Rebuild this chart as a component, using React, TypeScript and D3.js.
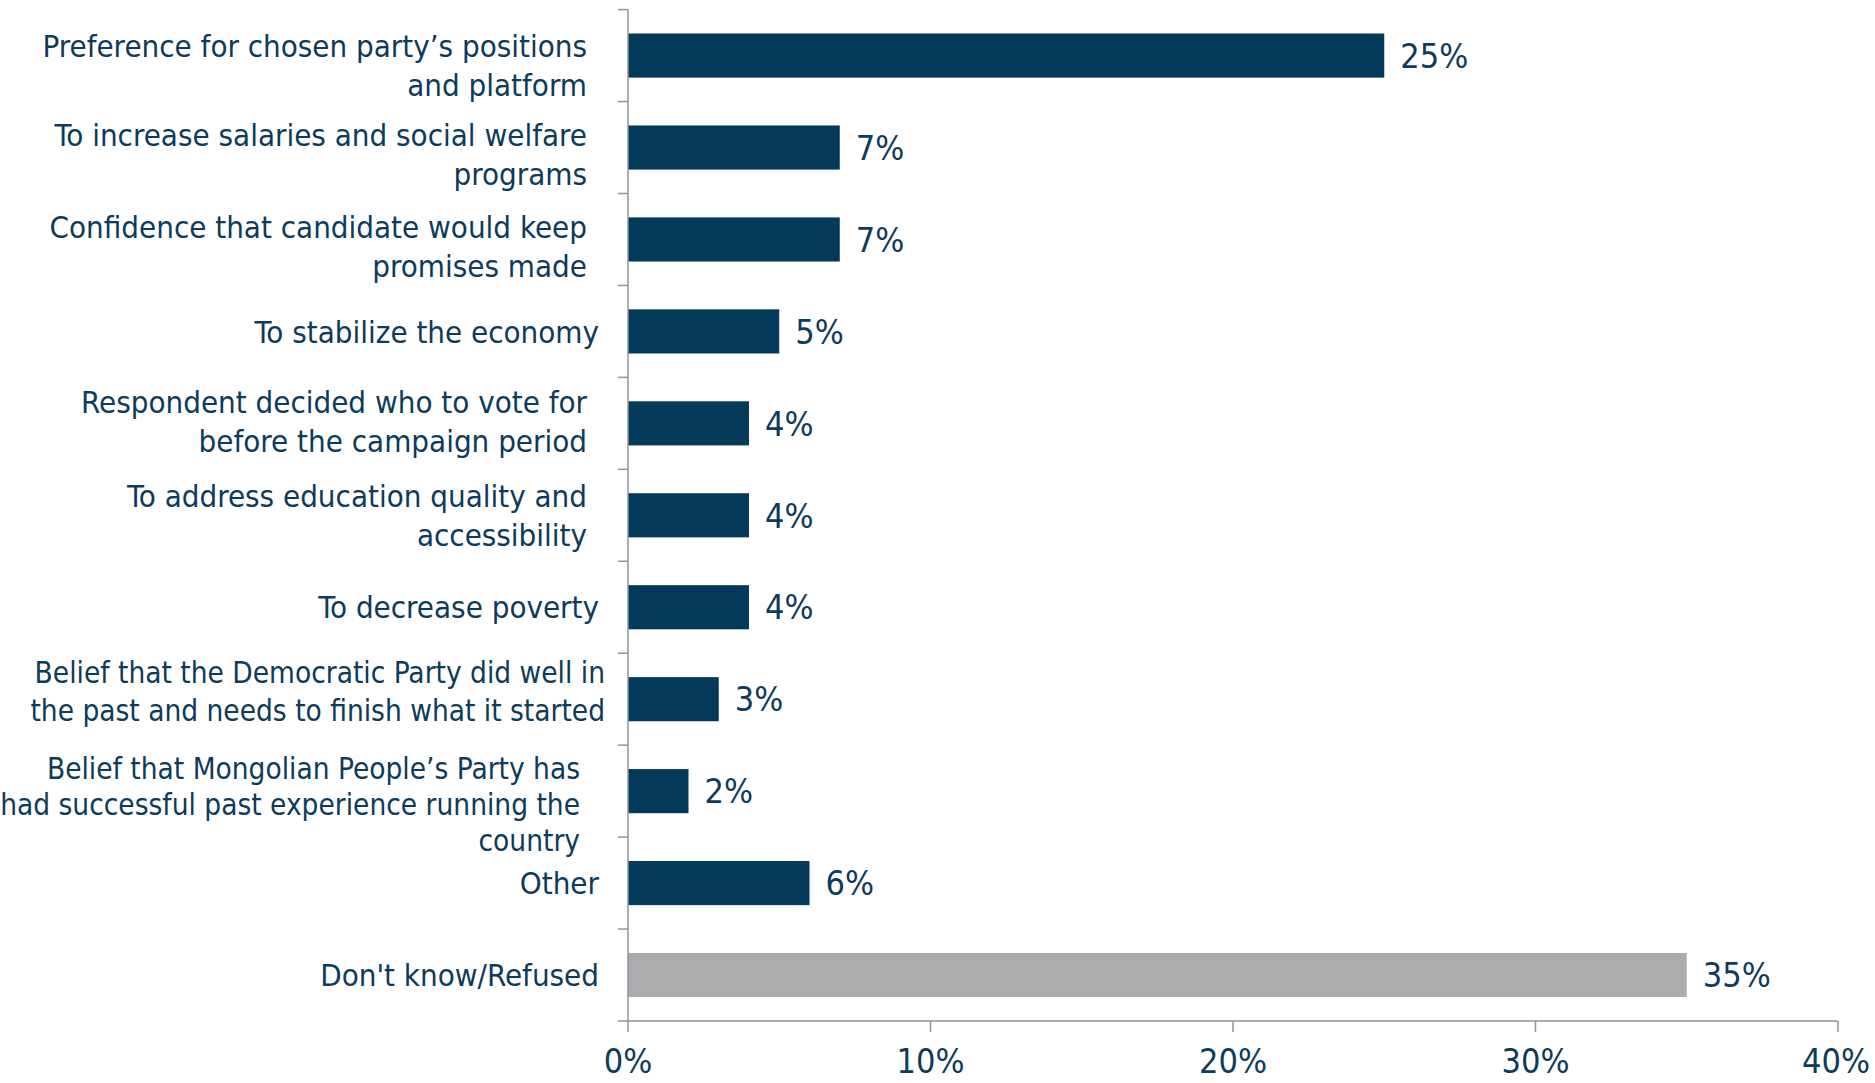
import React from 'react'
import * as d3 from 'd3'

// categories (each entry holds the wrapped lines of the label)
const categories: string[][] = [
  ['Preference for chosen party\u2019s positions', 'and platform'],
  ['To increase salaries and social welfare', 'programs'],
  ['Confidence that candidate would keep', 'promises made'],
  ['To stabilize the economy'],
  ['Respondent decided who to vote for', 'before the campaign period'],
  ['To address education quality and', 'accessibility'],
  ['To decrease poverty'],
  ['Belief that the Democratic Party did well in', 'the past and needs to finish what it started'],
  ['Belief that Mongolian People\u2019s Party has', 'had successful past experience running the', 'country'],
  ['Other'],
  ["Don't know/Refused"],
]
const values = [25, 7, 7, 5, 4, 4, 4, 3, 2, 6, 35]
const highlight = [false, false, false, false, false, false, false, false, false, false, true]
const xTicks = [0, 10, 20, 30, 40]

const WIDTH = 1875
const HEIGHT = 1083
const FONT = "'Liberation Sans Narrow', 'DejaVu Sans Condensed', 'Arial Narrow', sans-serif"
const NAVY = '#033a5a'
const GREY = '#acacae'
const TEXT = '#0d3b5b'
const AXIS = '#8e959d'

// label layout tweaks: right edge, vertical shift, line spacing and size of each block
// (Excel's wrapping leaves uneven edges)
const labelRight = [587, 587, 587, 599, 587, 587, 599, 605, 580, 599, 599]
const labelShift = [10, 7, 7, 0, -2, 0, 0, -8, 13, 0, 0]
const labelLine = [39.5, 38.5, 38.5, 39, 39, 39, 39, 37.5, 36, 39, 39]
const labelSize = [31, 31, 31, 31, 31, 31, 31, 29.5, 29.5, 31, 31]

export default function App() {
  const x = d3.scaleLinear().domain([0, 40]).range([628, 1838])
  const y = d3.scaleBand<number>()
    .domain(d3.range(categories.length))
    .range([9.6, 1021])
    .paddingInner(0.52)
    .paddingOuter(0.26)
  const step = y.step()

  return (
    <div style={{ position: 'absolute', left: 0, top: 0 }}>
      <svg width={WIDTH} height={HEIGHT} style={{ display: 'block', fontFamily: FONT }}>
        <rect width={WIDTH} height={HEIGHT} fill="#fff" />

        {/* bars */}
        {values.map((v, i) => (
          <rect
            key={'b' + i}
            x={x(0)}
            y={y(i)}
            width={x(v) - x(0)}
            height={y.bandwidth()}
            fill={highlight[i] ? GREY : NAVY}
          />
        ))}

        {/* value labels */}
        {values.map((v, i) => (
          <text
            key={'v' + i}
            x={x(v) + 16}
            y={(y(i) as number) + y.bandwidth() / 2}
            dy="0.36em"
            fontSize={34}
            fill={TEXT}
          >
            {v}%
          </text>
        ))}

        {/* y axis */}
        <line x1={x(0)} x2={x(0)} y1={9.6} y2={1021} stroke={AXIS} strokeWidth={1.5} />
        {d3.range(categories.length + 1).map(i => {
          const ty = 9.6 + i * step
          return <line key={'yt' + i} x1={x(0) - 10} x2={x(0)} y1={ty} y2={ty} stroke={AXIS} strokeWidth={1.5} />
        })}

        {/* x axis */}
        <line x1={x(0)} x2={x(40)} y1={1021} y2={1021} stroke={AXIS} strokeWidth={1.5} />
        {xTicks.map(t => (
          <g key={'xt' + t}>
            <line x1={x(t)} x2={x(t)} y1={1021} y2={1032} stroke={AXIS} strokeWidth={1.5} />
            <text x={t === 40 ? x(t) - 2 : x(t)} y={1073} textAnchor="middle" fontSize={34} fill={TEXT}>
              {t}%
            </text>
          </g>
        ))}

        {/* category labels */}
        {categories.map((lines, i) => {
          const lh = labelLine[i]
          const cy = (y(i) as number) + y.bandwidth() / 2 + labelShift[i]
          const top = cy - ((lines.length - 1) * lh) / 2
          return (
            <text key={'c' + i} textAnchor="end" fontSize={labelSize[i]} fill={TEXT}>
              {lines.map((ln, j) => (
                <tspan key={j} x={labelRight[i]} y={top + j * lh} dy="0.36em">
                  {ln}
                </tspan>
              ))}
            </text>
          )
        })}
      </svg>
    </div>
  )
}
